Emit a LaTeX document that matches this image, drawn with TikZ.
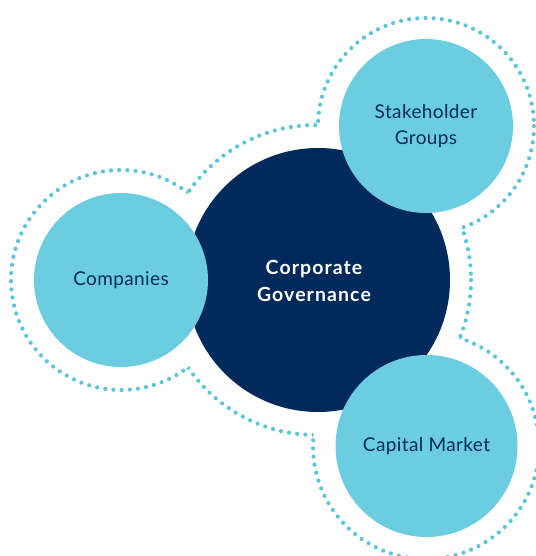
\documentclass[tikz,border=0pt]{standalone}
\usepackage{fontspec}
\setmainfont{Lato}
\newfontfamily\satfont{Lato}[LetterSpace=2]
\newfontfamily\hubfont{Lato}[LetterSpace=5.5]
\definecolor{lightblue}{HTML}{6CCDE0}
\definecolor{dotblue}{HTML}{5CC5DA}
\definecolor{navy}{HTML}{002A5C}
\begin{document}
\begin{tikzpicture}[x=1pt,y=-1pt,
  dots/.style={dotblue, line width=4.2pt, line cap=round, dash pattern=on 0pt off 8.2pt},
  satellite/.style={circle, fill=lightblue, inner sep=0pt, text=navy,
    font=\satfont\fontsize{19}{26.5}\selectfont, align=center},
  hub/.style={circle, fill=navy, inner sep=0pt},
  hubtext/.style={text=white, font=\hubfont\bfseries\fontsize{19.5}{27}\selectfont, align=center}]
\useasboundingbox (0,0) rectangle (535,556);
% dotted outline of the union
\begin{scope}[even odd rule]
  \clip (-10,-10) rectangle (545,566) (316,280) circle[radius=155];
  \draw[dots] (121,280) circle[radius=110];
  \draw[dots] (426,126) circle[radius=108];
  \draw[dots] (426,446) circle[radius=113];
\end{scope}
\begin{scope}[even odd rule]
  \clip (-10,-10) rectangle (545,566)
    (121,280) circle[radius=110] (426,126) circle[radius=108] (426,446) circle[radius=113];
  \draw[dots] (316,280) circle[radius=155];
\end{scope}
% circles
\node[hub, minimum size=264pt] (cg) at (318,280) {};
\node[hubtext] (cgtext) at (314,281) {Corporate\\Governance};
\node[satellite, minimum size=174pt] (comp) at (121,280) {Companies};
\node[satellite, minimum size=174pt] (stake) at (426,126) {Stakeholder\\Groups};
\node[satellite, minimum size=182pt] (cap) at (426.5,446) {Capital Market};
\end{tikzpicture}
\end{document}
